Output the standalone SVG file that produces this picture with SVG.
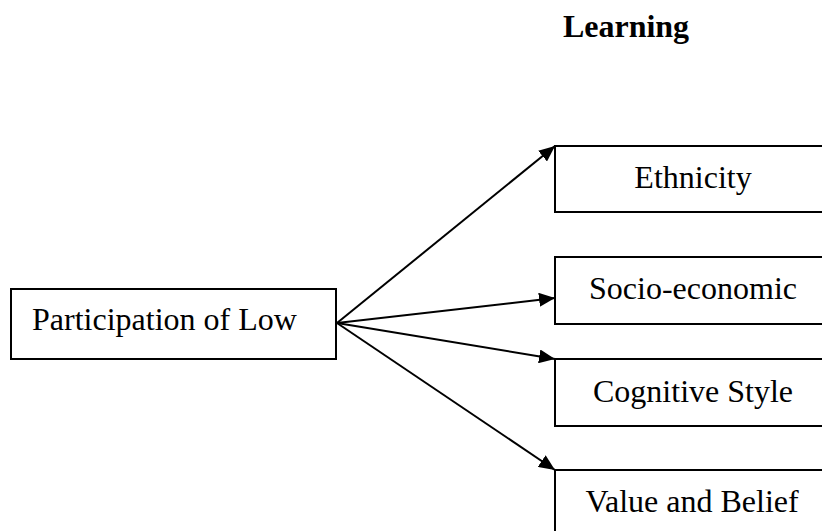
<svg xmlns="http://www.w3.org/2000/svg" width="822" height="531" viewBox="0 0 822 531">
<style>
.box{fill:#fff;stroke:#000;stroke-width:2}
.t{font-family:"Liberation Serif","Times New Roman",serif;font-size:32px;fill:#000}
.c{stroke:#000;stroke-width:2;fill:none}
</style>
<defs>
<marker id="ah" markerUnits="userSpaceOnUse" markerWidth="16" markerHeight="14" refX="16" refY="7" orient="auto">
<path d="M0,0 L16,7 L0,14 Z" fill="#000"/>
</marker>
</defs>
<rect width="822" height="531" fill="#fff"/>
<text class="t" x="626" y="37" text-anchor="middle" font-weight="bold">Learning</text>
<g id="connectors">
<line class="c" x1="337" y1="323" x2="555" y2="146" marker-end="url(#ah)"/>
<line class="c" x1="337" y1="323" x2="555" y2="298" marker-end="url(#ah)"/>
<line class="c" x1="337" y1="323" x2="555" y2="359" marker-end="url(#ah)"/>
<line class="c" x1="337" y1="323" x2="555" y2="470" marker-end="url(#ah)"/>
</g>
<g id="participation">
<rect class="box" x="11" y="289" width="325" height="70"/>
<text class="t" x="32" y="330">Participation of Low</text>
</g>
<g id="ethnicity">
<rect class="box" x="555" y="146" width="280" height="66"/>
<text class="t" x="693" y="188" text-anchor="middle">Ethnicity</text>
</g>
<g id="socio">
<rect class="box" x="555" y="257" width="280" height="67"/>
<text class="t" x="693" y="299" text-anchor="middle">Socio-economic</text>
</g>
<g id="cognitive">
<rect class="box" x="555" y="359" width="280" height="67"/>
<text class="t" x="693" y="402" text-anchor="middle">Cognitive Style</text>
</g>
<g id="value">
<rect class="box" x="555" y="470" width="280" height="70"/>
<text class="t" x="692" y="512" text-anchor="middle">Value and Belief</text>
</g>
</svg>
